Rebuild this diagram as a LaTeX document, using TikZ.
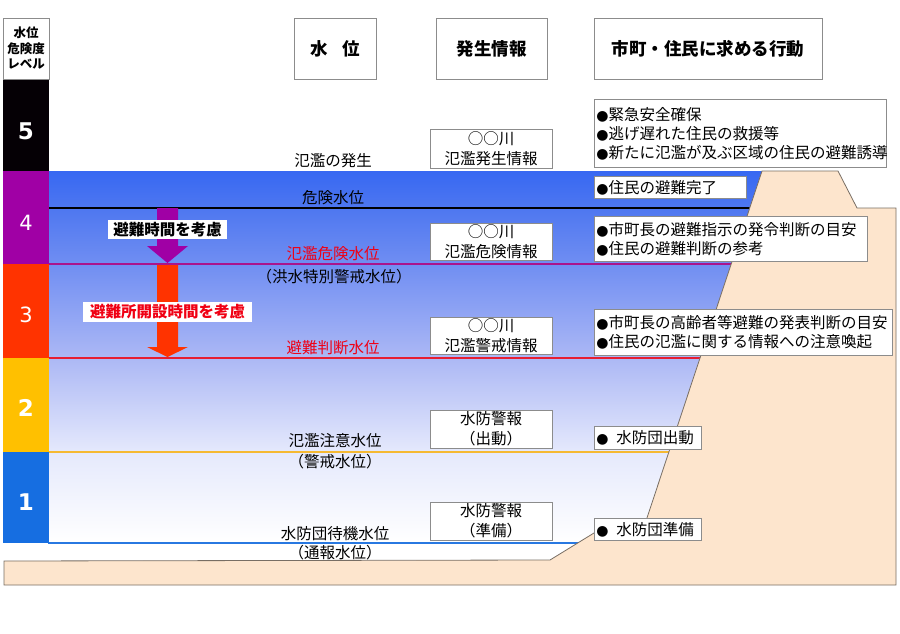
\documentclass[tikz,border=0pt]{standalone}
\usepackage{fontspec}
\setmainfont{Noto Sans CJK JP}
\newfontfamily\digitfont{DejaVu Sans}
\newcommand\mybul{{\digitfont\fontsize{14}{14}\selectfont ●}}
\definecolor{lvfive}{RGB}{5,0,5}
\definecolor{lvfour}{RGB}{160,0,165}
\definecolor{lvthree}{RGB}{255,51,0}
\definecolor{lvtwo}{RGB}{255,192,0}
\definecolor{lvone}{RGB}{22,110,225}
\definecolor{boxgray}{RGB}{140,140,140}
\definecolor{bankfill}{RGB}{253,229,205}
\definecolor{bankline}{RGB}{120,110,100}
\definecolor{redtxt}{RGB}{240,0,20}
\definecolor{purpleline}{RGB}{170,20,140}
\definecolor{redline}{RGB}{230,30,50}
\definecolor{orangeline}{RGB}{245,185,50}
\definecolor{blueline}{RGB}{40,120,225}
\definecolor{wa}{RGB}{255,255,255}
\definecolor{wb}{RGB}{229,233,252}
\definecolor{wc}{RGB}{172,184,245}
\definecolor{wd}{RGB}{112,142,242}
\definecolor{we}{RGB}{78,119,240}
\definecolor{wf}{RGB}{55,104,242}
\pgfdeclareverticalshading{water}{100bp}{color(0bp)=(wa); color(25bp)=(wa); color(37.25bp)=(wb); color(49.85bp)=(wc); color(62.5bp)=(wd); color(70bp)=(we); color(75bp)=(wf); color(100bp)=(wf)}
\begin{document}
\begin{tikzpicture}[x=1pt,y=-1pt,
  frame/.style={draw=boxgray, line width=0.8pt, fill=white, inner sep=0pt},
  bodytxt/.style={font=\fontsize{15.5}{19}\selectfont},
  midbox/.style={frame, bodytxt, font=\fontsize{15.5}{20}\selectfont, minimum width=122pt, align=center},
  actbox/.style={frame, bodytxt, align=left, inner xsep=2pt, anchor=north west},
  headbox/.style={frame, font=\bfseries\fontsize{17.5}{20}\selectfont, minimum height=61pt},
  lvltxt/.style={inner sep=0pt, font=\fontsize{15.5}{19}\selectfont},
  lvnum/.style={inner sep=0pt, text=white},
  arrowlabel/.style={fill=white, inner sep=0pt, font=\bfseries\fontsize{15.5}{19}\selectfont}]
\useasboundingbox (0,0) rectangle (900,634);

% water body
\shade[shading=water] (48,171) -- (762,171) -- (642,533) -- (594,533) -- (578,543) -- (48,543) -- cycle;

% water level lines
\draw[line width=1.2pt, black] (48,208) -- (752,208);
\draw[line width=1.2pt, purpleline] (48,264) -- (735,264);
\draw[line width=1.5pt, redline] (48,358) -- (702,358);
\draw[line width=1.5pt, orangeline] (48,452) -- (670,452);
\draw[line width=1.5pt, blueline] (48,543) -- (579,543);

% arrows
\fill[lvfour] (157,208) -- (178,208) -- (178,246) -- (188,246) -- (167.5,263) -- (147,246) -- (157,246) -- cycle;
\fill[lvthree] (157,265) -- (178,265) -- (178,347) -- (188,347) -- (167.5,357) -- (147,347) -- (157,347) -- cycle;
\node[arrowlabel, minimum width=119pt, minimum height=19pt] (al1) at (167.5,229.5) {避難時間を考慮};
\node[arrowlabel, text=redtxt, minimum width=169pt, minimum height=20pt] (al2) at (167.5,312) {避難所開設時間を考慮};

% embankment
\filldraw[fill=bankfill, draw=bankline, line width=0.8pt] (4,561) -- (550,560) -- (594,533) -- (642,533) -- (762,171) -- (838,171) -- (857,208) -- (896,208) -- (896,585) -- (4,585) -- cycle;

% level bar
\fill[lvfive] (3,79) rectangle (49,171);
\fill[lvfour] (3,171) rectangle (49,264);
\fill[lvthree] (3,264) rectangle (49,358);
\fill[lvtwo] (3,358) rectangle (49,452);
\fill[lvone] (3,452) rectangle (49,543);
\node[frame, minimum width=46pt, minimum height=61pt, align=center, font=\bfseries\fontsize{12.5}{15.5}\selectfont] (lvhead) at (26,48.5) {水位\\危険度\\レベル};
\node[lvnum, font=\digitfont\bfseries\fontsize{23}{23}\selectfont] (n5) at (26,131) {5};
\node[lvnum, font=\digitfont\fontsize{21}{21}\selectfont] (n4) at (26,223) {4};
\node[lvnum, font=\digitfont\fontsize{21}{21}\selectfont] (n3) at (26,315) {3};
\node[lvnum, font=\digitfont\bfseries\fontsize{23}{23}\selectfont] (n2) at (26,408) {2};
\node[lvnum, font=\digitfont\bfseries\fontsize{23}{23}\selectfont] (n1) at (26,502) {1};

% headers
\node[headbox, minimum width=82pt] (h1) at (335,48.5) {水\hspace{0.8em}位};
\node[headbox, minimum width=111pt] (h2) at (491.5,48.5) {発生情報};
\node[headbox, minimum width=228pt] (h3) at (708,48.5) {市町・住民に求める行動};

% information boxes
\node[midbox, minimum height=39pt] (m1) at (491,148.5) {○○川\\氾濫発生情報};
\node[midbox, minimum height=37pt] (m2) at (491,241.5) {○○川\\氾濫危険情報};
\node[midbox, minimum height=37pt] (m3) at (491,335.5) {○○川\\氾濫警戒情報};
\node[midbox, minimum height=38pt] (m4) at (491,429) {水防警報\\（出動）};
\node[midbox, minimum height=38pt] (m5) at (491,521) {水防警報\\（準備）};

% action boxes
\node[actbox, text width=288pt, minimum height=68pt] (r1) at (594,99) {\mybul 緊急安全確保\\\mybul 逃げ遅れた住民の救援等\\\mybul 新たに氾濫が及ぶ区域の住民の避難誘導};
\node[actbox, text width=148pt, minimum height=22pt] (r2) at (594,176) {\mybul 住民の避難完了};
\node[actbox, text width=269pt, minimum height=45pt] (r3) at (594,216) {\mybul 市町長の避難指示の発令判断の目安\\\mybul 住民の避難判断の参考};
\node[actbox, text width=294pt, minimum height=46pt] (r4) at (594,309) {\mybul 市町長の高齢者等避難の発表判断の目安\\\mybul 住民の氾濫に関する情報への注意喚起};
\node[actbox, text width=103pt, minimum height=23pt] (r5) at (594,426) {\mybul\hspace{0.5em}水防団出動};
\node[actbox, text width=103pt, minimum height=22pt] (r6) at (594,518) {\mybul\hspace{0.5em}水防団準備};

% water level labels
\node[lvltxt] (t1) at (333,161) {氾濫の発生};
\node[lvltxt] (t2) at (333,198) {危険水位};
\node[lvltxt, text=redtxt] (t3) at (333,254) {氾濫危険水位};
\node[lvltxt] (t4) at (334,277) {（洪水特別警戒水位）};
\node[lvltxt, text=redtxt] (t5) at (333,348) {避難判断水位};
\node[lvltxt] (t6) at (335,441) {氾濫注意水位};
\node[lvltxt] (t7) at (335,462) {（警戒水位）};
\node[lvltxt] (t8) at (335,534) {水防団待機水位};
\node[lvltxt] (t9) at (335,553) {（通報水位）};
\end{tikzpicture}
\end{document}
